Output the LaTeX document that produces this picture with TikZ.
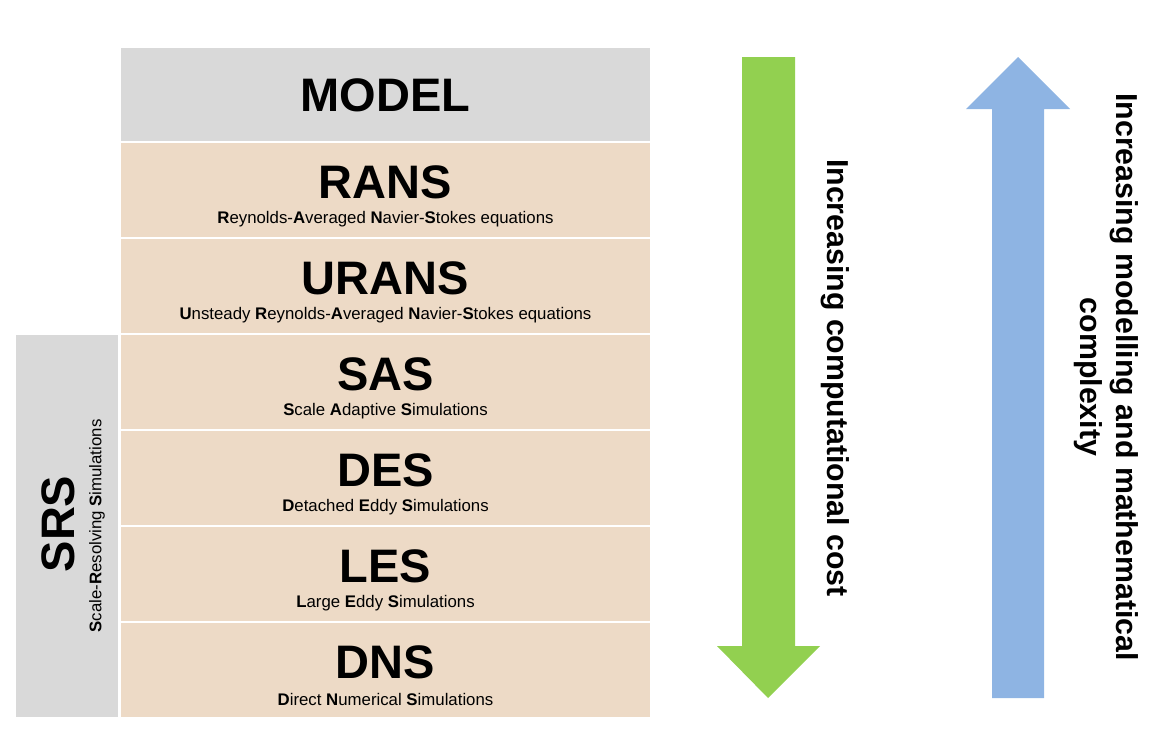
\documentclass[tikz,border=0pt]{standalone}
\usepackage{fontspec}
\setmainfont{Liberation Sans}
\usetikzlibrary{positioning}
\definecolor{modelgray}{RGB}{217,217,217}
\definecolor{rowpeach}{RGB}{237,218,198}
\definecolor{costgreen}{RGB}{146,208,80}
\definecolor{complexblue}{RGB}{142,180,227}

\tikzset{
  rowbox/.style={fill=rowpeach,draw=white,line width=2pt},
  modeltitle/.style={font=\fontsize{47}{47}\selectfont\bfseries},
  modelsub/.style={font=\fontsize{16.8}{18}\selectfont},
  sidetext/.style={font=\fontsize{30.3}{36}\selectfont\bfseries,align=center,rotate=-90}
}

\begin{document}
\begin{tikzpicture}[x=1pt,y=-1pt]
      \useasboundingbox (0,0) rectangle (1167,732);
      % header row
      \filldraw[fill=modelgray,draw=white,line width=2pt] (120,47) rectangle (651,142);
      \node[modeltitle] (model) at (385.5,95) {MODEL};
      % model rows
      \filldraw[rowbox] (120,142) rectangle (651,238);
      \node[modeltitle] (rans) at (385.5,182) {RANS};
      \node[modelsub] (ranssub) at (385.5,219) {\textbf{R}eynolds-\textbf{A}veraged \textbf{N}avier-\textbf{S}tokes equations};
      \filldraw[rowbox] (120,238) rectangle (651,334);
      \node[modeltitle] (urans) at (385.5,278) {URANS};
      \node[modelsub] (uranssub) at (385.5,315) {\textbf{U}nsteady \textbf{R}eynolds-\textbf{A}veraged \textbf{N}avier-\textbf{S}tokes equations};
      \filldraw[rowbox] (120,334) rectangle (651,430);
      \node[modeltitle] (sas) at (385.5,374) {SAS};
      \node[modelsub] (sassub) at (385.5,411) {\textbf{S}cale \textbf{A}daptive \textbf{S}imulations};
      \filldraw[rowbox] (120,430) rectangle (651,526);
      \node[modeltitle] (des) at (385.5,470) {DES};
      \node[modelsub] (dessub) at (385.5,507) {\textbf{D}etached \textbf{E}ddy \textbf{S}imulations};
      \filldraw[rowbox] (120,526) rectangle (651,622);
      \node[modeltitle] (les) at (385.5,566) {LES};
      \node[modelsub] (lessub) at (385.5,603) {\textbf{L}arge \textbf{E}ddy \textbf{S}imulations};
      \filldraw[rowbox] (120,622) rectangle (651,718);
      \node[modeltitle] (dns) at (385.5,662) {DNS};
      \node[modelsub] (dnssub) at (385.5,699) {\textbf{D}irect \textbf{N}umerical \textbf{S}imulations};
      % SRS column
      \filldraw[fill=modelgray,draw=white,line width=2pt] (15,334) rectangle (119,718);
      \node[modeltitle,rotate=90] (srs) at (58,524) {SRS};
      \node[modelsub,rotate=90] (srssub) at (97,526) {\textbf{S}cale-\textbf{R}esolving \textbf{S}imulations};
      % cost arrow
      \fill[costgreen] (742,57) -- (795,57) -- (795,646) -- (820,646) -- (768,698)
        -- (717,646) -- (742,646) -- cycle;
      \node[sidetext] (cost) at (835,378) {Increasing computational cost};
      % complexity arrow
      \fill[complexblue] (992,698) -- (1044,698) -- (1044,109) -- (1070,109) -- (1018,57)
        -- (966,109) -- (992,109) -- cycle;
      \node[sidetext] (complex) at (1106,377) {Increasing modelling and mathematical\\complexity};
    \end{tikzpicture}
\end{document}
